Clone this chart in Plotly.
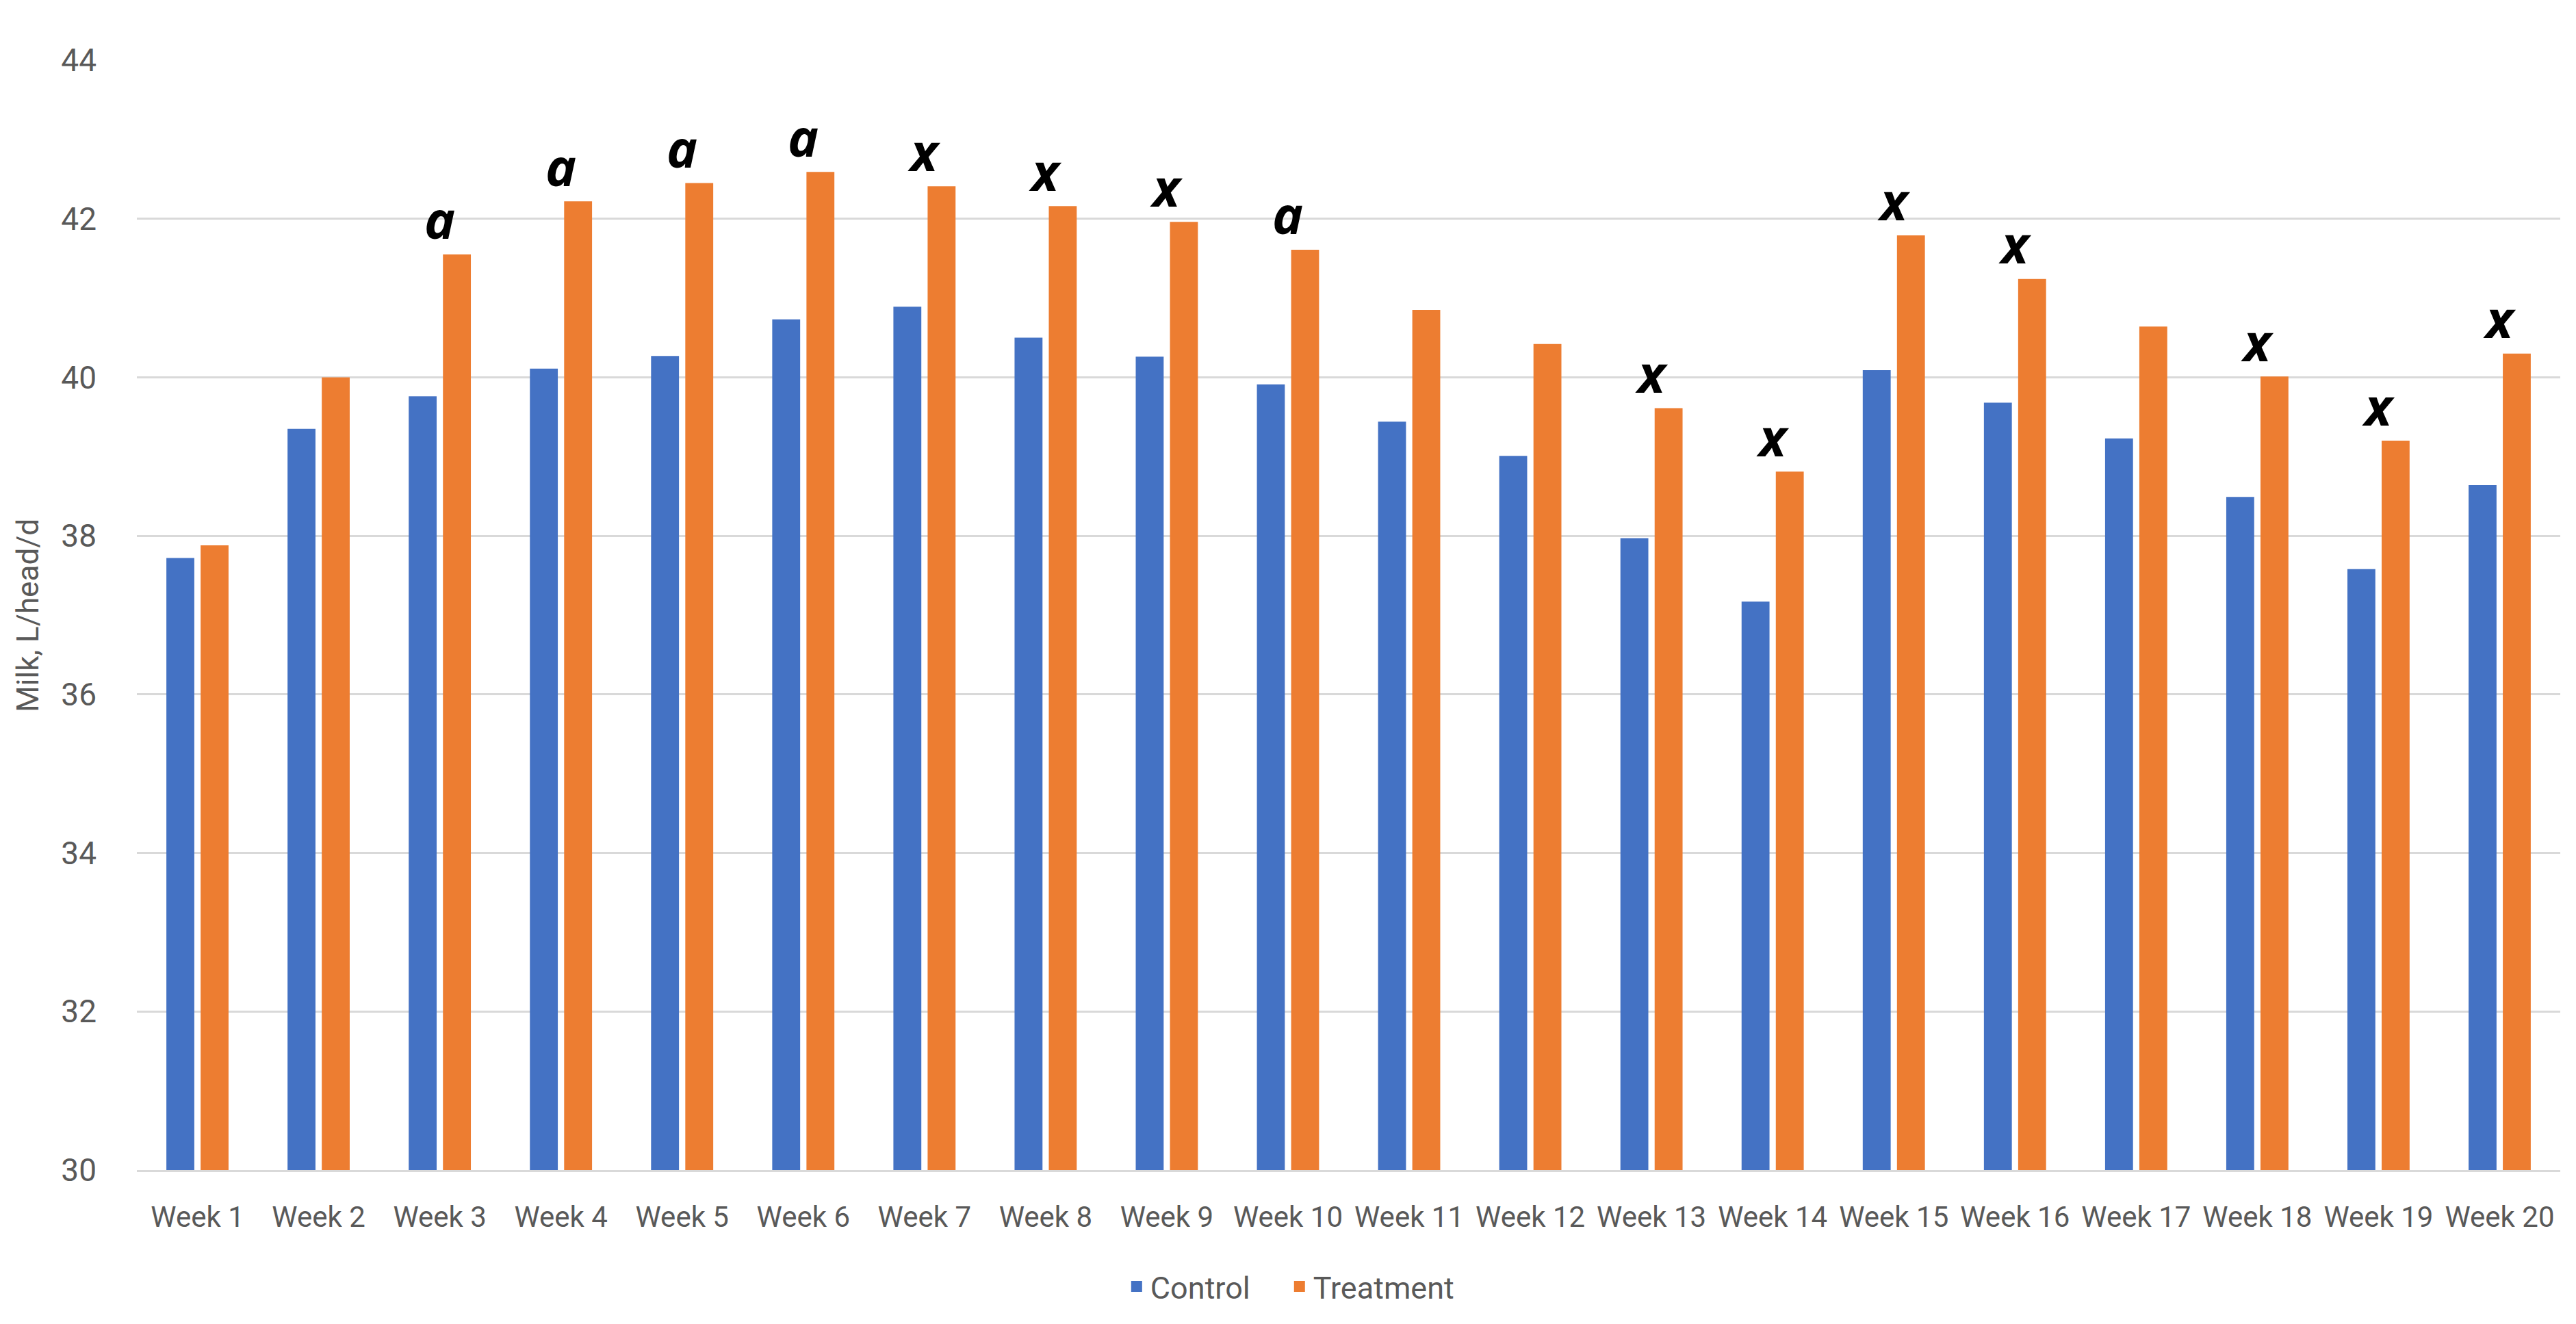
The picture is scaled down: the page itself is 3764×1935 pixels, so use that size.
import plotly.graph_objects as go

weeks = [f"Week {i}" for i in range(1, 21)]
control = [37.72, 39.35, 39.76, 40.11, 40.27, 40.73, 40.89, 40.50, 40.26, 39.91,
           39.44, 39.01, 37.97, 37.17, 40.09, 39.68, 39.23, 38.49, 37.58, 38.64]
treatment = [37.88, 40.00, 41.55, 42.22, 42.45, 42.59, 42.41, 42.16, 41.96, 41.61,
             40.85, 40.42, 39.61, 38.81, 41.79, 41.24, 40.64, 40.01, 39.20, 40.30]
sig_labels = ["", "", "a", "a", "a", "a", "x", "x", "x", "a",
              "", "", "x", "x", "x", "x", "", "x", "x", "x"]
y_ticks = [30, 32, 34, 36, 38, 40, 42, 44]

BLUE = "#4472C4"
ORANGE = "#ED7D31"
GRAY_TEXT = "#595959"
GRID = "#d9d9d9"

fig = go.Figure()
fig.add_trace(go.Bar(name="Control", x=weeks, y=control, showlegend=False,
                     marker=dict(color=BLUE, line=dict(width=0))))
fig.add_trace(go.Bar(name="Treatment", x=weeks, y=treatment, showlegend=False,
                     marker=dict(color=ORANGE, line=dict(width=0))))
# legend entries with larger square swatches (one legend per entry for spacing)
for name, col, lg in [("Control", BLUE, "legend"), ("Treatment", ORANGE, "legend2")]:
    fig.add_trace(go.Scatter(name=name, x=[None], y=[None], mode="markers",
                             marker=dict(symbol="square", size=26, color=col),
                             showlegend=True, legend=lg))

annotations = []
for w, c, t, lab in zip(weeks, control, treatment, sig_labels):
    if lab:
        annotations.append(dict(
            x=w, y=max(c, t), xref="x", yref="y", text=lab, showarrow=False,
            xanchor="center", yanchor="middle", yshift=52,
            font=dict(family="Open Sans", size=76, color="black",
                      weight="bold", style="italic")))

annotations.append(dict(
    x=-0.045, y=0.5, xref="paper", yref="paper", text="Milk, L/head/d",
    textangle=-90, showarrow=False, xanchor="center", yanchor="middle",
    font=dict(family="Roboto", size=44, color=GRAY_TEXT)))

legend_common = dict(orientation="h", y=-0.105, yanchor="middle",
                     font=dict(family="Roboto", size=45, color=GRAY_TEXT),
                     itemsizing="trace", itemwidth=30, bgcolor="rgba(0,0,0,0)")

fig.update_layout(
    width=3764, height=1935,
    margin=dict(l=192, r=31, t=80, b=233),
    paper_bgcolor="white", plot_bgcolor="white",
    barmode="group", bargap=0.435, bargroupgap=0.184,
    font=dict(family="Roboto", color=GRAY_TEXT),
    showlegend=True,
    legend=dict(x=0.4069, xanchor="left", **legend_common),
    legend2=dict(x=0.4741, xanchor="left", **legend_common),
    annotations=annotations,
)
fig.update_xaxes(
    type="category", showgrid=False, showline=True, linecolor=GRID, linewidth=3,
    ticks="", tickfont=dict(family="Roboto", size=42, color=GRAY_TEXT),
    ticklabelstandoff=30,
)
fig.update_yaxes(
    range=[30, 44], tickvals=y_ticks, showgrid=True, gridcolor=GRID, gridwidth=3,
    zeroline=False, showline=False, ticks="",
    tickfont=dict(family="Roboto", size=46, color=GRAY_TEXT),
    ticklabelstandoff=58,
)

fig.write_html("out.html")
